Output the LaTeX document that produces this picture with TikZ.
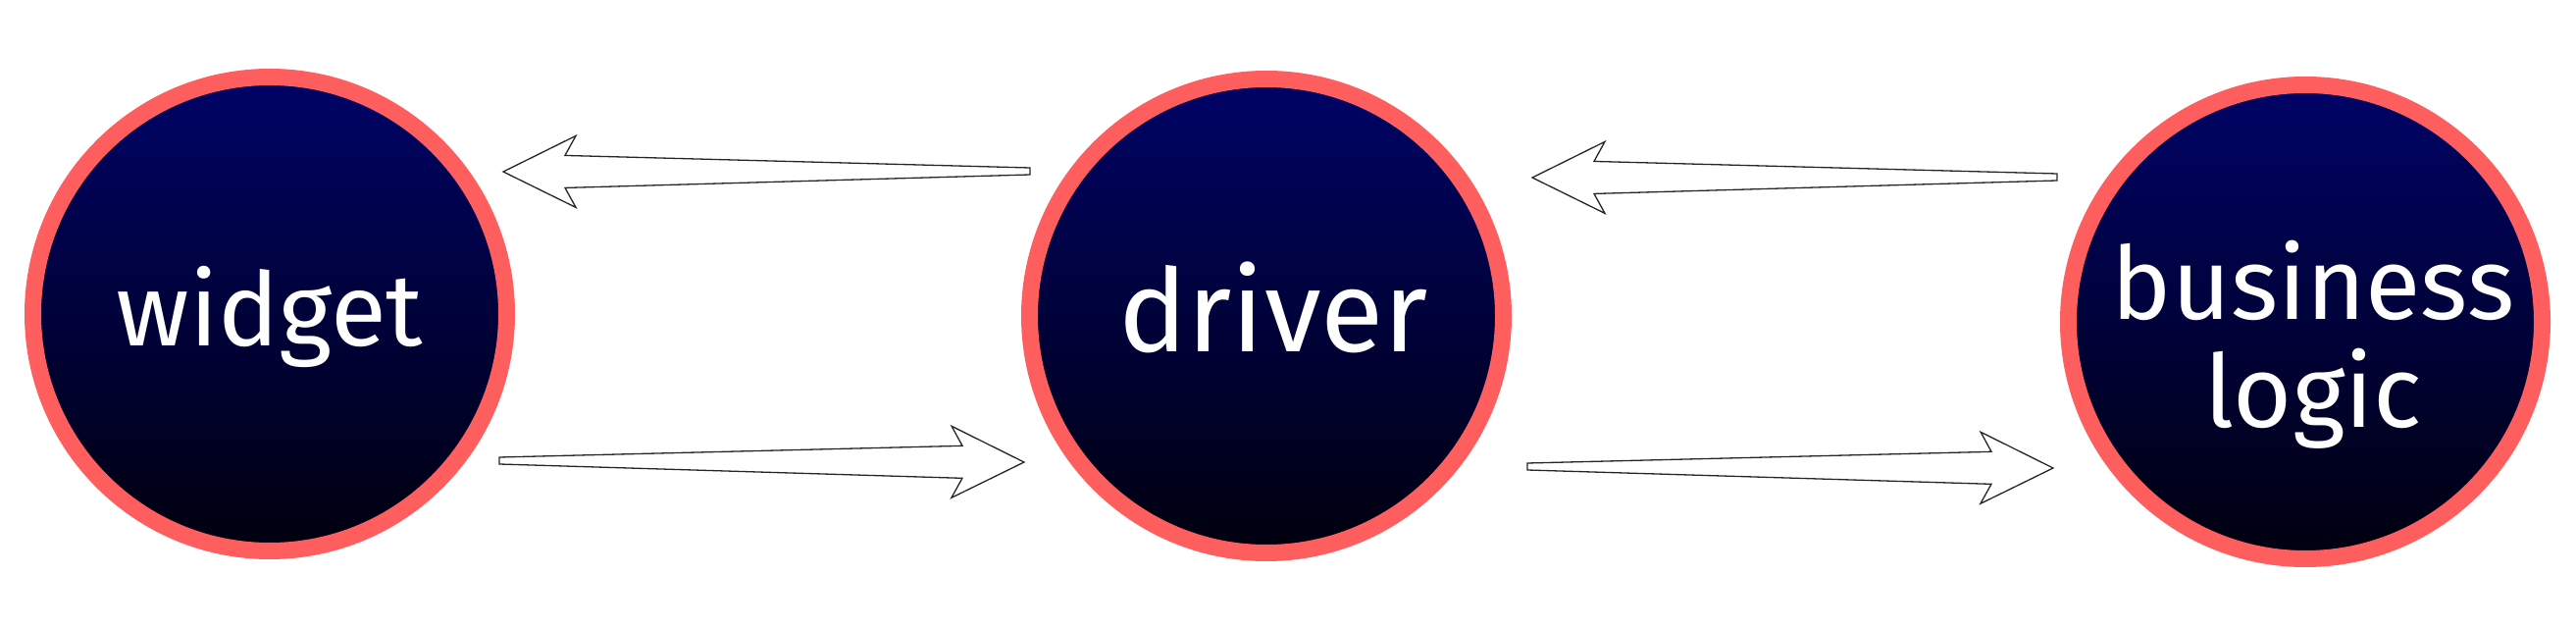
\documentclass[tikz,border=0pt]{standalone}
\usepackage{fontspec}
\setmainfont{Fira Sans}
\usetikzlibrary{calc}
\newlength\pxu \setlength\pxu{0.01cm}
\definecolor{ring}{RGB}{255,94,94}
\definecolor{navytop}{RGB}{0,3,102}
\definecolor{navybot}{RGB}{0,0,14}
\tikzset{
  bubble/.style={circle, draw=ring, line width=17\pxu, top color=navytop,
    bottom color=navybot, inner sep=0pt, outer sep=0pt, text=white,
    minimum size=483\pxu},
  arrowbody/.style={draw=black!85, fill=white, line width=1.3\pxu, line join=miter},
}
\newcommand\fatarrow[2]{% #1 = tail, #2 = tip
  \coordinate (fa-n) at ($(#2)!63\pxu!(#1)$);
  \coordinate (fa-c) at ($(#2)!74\pxu!(#1)$);
  \draw[arrowbody] ($(#1)!3.5\pxu!-90:(#2)$) -- ($(fa-n)!16.5\pxu!90:(#1)$)
    -- ($(fa-c)!36.5\pxu!90:(#1)$) -- (#2) -- ($(fa-c)!36.5\pxu!-90:(#1)$)
    -- ($(fa-n)!16.5\pxu!-90:(#1)$) -- ($(#1)!3.5\pxu!90:(#2)$) -- cycle;
}
\newcommand\placetext[2]{\makebox[0pt]{\raisebox{#1}[0pt][0pt]{#2}}}
\begin{document}
\begin{tikzpicture}[x=0.01cm,y=-0.01cm]
\useasboundingbox (0,0) rectangle (2626,640);
\node[bubble, font=\fontsize{29.6pt}{35pt}\selectfont] (w) at (275,320)
  {\placetext{-33\pxu}{widget}};
\node[bubble, font=\fontsize{33.4pt}{40pt}\selectfont] (d) at (1291,322)
  {\placetext{-37\pxu}{\hspace*{14\pxu}driver}};
\node[bubble, font=\fontsize{29.3pt}{31.3pt}\selectfont] (b) at (2350,328)
  {\placetext{2\pxu}{\hspace*{16\pxu}\vtop{\baselineskip=110\pxu\halign{\hfil#\hfil\cr business\cr logic\cr}}}};
\coordinate (a1tail) at ($(d)+(-241,-147.5)$);
\coordinate (a1tip)  at ($(w)+(238,-145)$);
\coordinate (a2tail) at ($(w)+(234,149.5)$);
\coordinate (a2tip)  at ($(d)+(-247,149)$);
\coordinate (a3tail) at ($(b)+(-253,-147.5)$);
\coordinate (a3tip)  at ($(d)+(271,-141)$);
\coordinate (a4tail) at ($(d)+(266,153.5)$);
\coordinate (a4tip)  at ($(b)+(-257,149)$);
\fatarrow{a1tail}{a1tip}
\fatarrow{a2tail}{a2tip}
\fatarrow{a3tail}{a3tip}
\fatarrow{a4tail}{a4tip}
\end{tikzpicture}
\end{document}
